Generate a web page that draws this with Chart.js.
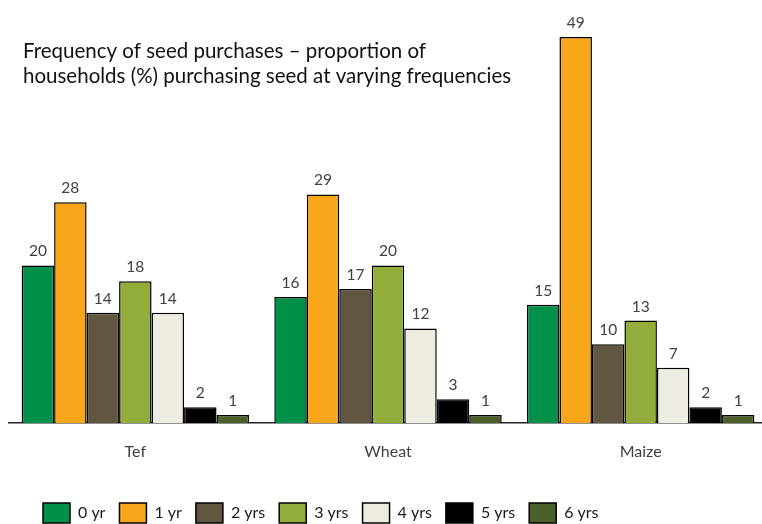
<!DOCTYPE html>
<html>
<head>
<meta charset="utf-8">
<script src="https://cdn.jsdelivr.net/npm/chart.js@4.4.1/dist/chart.umd.min.js"></script>
<style>
  body { margin: 0; background: #fff; }
  #wrap { width: 762px; height: 524px; overflow: hidden; }
  canvas { display: block; }
</style>
</head>
<body>
<div id="wrap"><canvas id="chart" width="772" height="533"></canvas></div>
<script>
// Seed purchase frequency by crop (% of households)
const crops = ['Tef', 'Wheat', 'Maize'];
const frequencyLabels = ['0 yr', '1 yr', '2 yrs', '3 yrs', '4 yrs', '5 yrs', '6 yrs'];
const yr0 = [20, 16, 15];
const yr1 = [28, 29, 49];
const yr2 = [14, 17, 10];
const yr3 = [18, 20, 13];
const yr4 = [14, 12, 7];
const yr5 = [2, 3, 2];
const yr6 = [1, 1, 1];
const barColors = ['#00904a', '#f9a61a', '#615740', '#92ad3a', '#eeebe0', '#000000', '#4b5f2a'];
const titleLines = [
    'Frequency of seed purchases \u2013 proportion of',
    'households (%) purchasing seed at varying frequencies'
];

const FONT = 'Lato, "Open Sans", sans-serif';

// Draw the value above every bar
const valueLabels = {
    id: 'valueLabels',
    afterDatasetsDraw(chart) {
        const ctx = chart.ctx;
        ctx.save();
        ctx.font = '15.5px ' + FONT;
        ctx.fillStyle = '#404040';
        ctx.textAlign = 'center';
        ctx.textBaseline = 'alphabetic';
        chart.data.datasets.forEach((ds, i) => {
            chart.getDatasetMeta(i).data.forEach((bar, j) => {
                ctx.fillText(ds.data[j], bar.x, bar.y - 9);
            });
        });
        ctx.restore();
    }
};

// Two-line title sitting inside the plot, top left
const plotTitle = {
    id: 'plotTitle',
    afterDraw(chart) {
        const ctx = chart.ctx;
        ctx.save();
        ctx.font = '20.5px ' + FONT;
        ctx.fillStyle = '#111';
        ctx.textAlign = 'left';
        ctx.textBaseline = 'alphabetic';
        titleLines.forEach((line, i) => ctx.fillText(line, 23, 58 + i * 24.5));
        ctx.restore();
    }
};

// Nudge the legend to the right
const legendShift = {
    id: 'legendShift',
    afterLayout(chart) {
        chart.legend.left += 20;
        chart.legend.right += 20;
    }
};

const series = [yr0, yr1, yr2, yr3, yr4, yr5, yr6];

new Chart(document.getElementById('chart'), {
    type: 'bar',
    data: {
        labels: crops,
        datasets: series.map((values, i) => ({
            label: frequencyLabels[i],
            data: values,
            backgroundColor: barColors[i],
            borderColor: '#000',
            borderWidth: 1.5,
            categoryPercentage: 0.9,
            barPercentage: 1.0
        }))
    },
    options: {
        responsive: false,
        animation: false,
        layout: { padding: { top: 29, left: 9, right: 5, bottom: 0 } },
        plugins: {
            tooltip: { enabled: false },
            legend: {
                position: 'bottom',
                align: 'start',
                labels: {
                    boxWidth: 27,
                    boxHeight: 20,
                    padding: 14,
                    color: '#1a1a1a',
                    font: { family: FONT, size: 16 }
                }
            }
        },
        scales: {
            x: {
                grid: { display: false },
                border: { display: true, color: '#222', width: 1.5 },
                ticks: { color: '#404040', padding: 11, font: { family: FONT, size: 16 } },
                afterFit(scale) { scale.height = 66; }
            },
            y: {
                display: false,
                min: 0,
                max: 50
            }
        }
    },
    plugins: [valueLabels, plotTitle, legendShift]
});
</script>
</body>
</html>
